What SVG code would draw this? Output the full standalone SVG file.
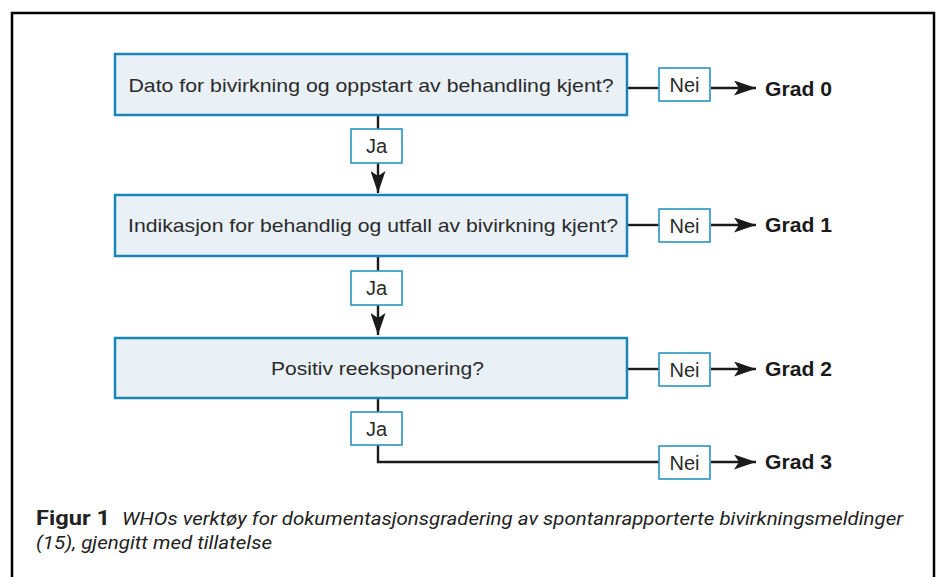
<svg xmlns="http://www.w3.org/2000/svg" width="939" height="577" viewBox="0 0 939 577">
<style>
.q{fill:#e9f0f6;stroke:#1a86b8;stroke-width:2.5}
.lb{fill:#fff;stroke:#2a93c2;stroke-width:1.6}
.t{font-family:"Liberation Sans",Arial,sans-serif;font-size:19px;fill:#2a2a2a}
.s{font-family:"Liberation Sans",Arial,sans-serif;font-size:20px;fill:#2a2a2a}
.g{font-family:"Liberation Sans",Arial,sans-serif;font-size:20.5px;font-weight:bold;fill:#1a1a1a}
.ln{stroke:#1a1a1a;stroke-width:2.4;fill:none}
.cap{font-family:Roboto,"Liberation Sans",sans-serif;font-size:18px;fill:#222}
</style>
<defs>
<marker id="ah" viewBox="0 0 22 15" refX="22" refY="7.5" markerWidth="22" markerHeight="15" markerUnits="userSpaceOnUse" orient="auto">
<path d="M0,0 L22,7.5 L0,15 L5,7.5 Z" fill="#1a1a1a"/>
</marker>
</defs>
<rect x="12" y="13" width="922" height="580" fill="#fff" stroke="#000" stroke-width="2.5"/>
<g id="connectors">
<line class="ln" x1="378" y1="116" x2="378" y2="193" marker-end="url(#ah)"/>
<line class="ln" x1="378" y1="257" x2="378" y2="335" marker-end="url(#ah)"/>
<polyline class="ln" points="378,399 378,462 659,462"/>
<line class="ln" x1="628" y1="88" x2="659" y2="88"/>
<line class="ln" x1="711" y1="88" x2="756" y2="88" marker-end="url(#ah)"/>
<line class="ln" x1="628" y1="225" x2="659" y2="225"/>
<line class="ln" x1="711" y1="225" x2="756" y2="225" marker-end="url(#ah)"/>
<line class="ln" x1="628" y1="369" x2="659" y2="369"/>
<line class="ln" x1="711" y1="369" x2="756" y2="369" marker-end="url(#ah)"/>
<line class="ln" x1="711" y1="462" x2="756" y2="462" marker-end="url(#ah)"/>
</g>
<g id="q1">
<rect class="q" x="115" y="54" width="512" height="61"/>
<text class="t" x="371" y="92" text-anchor="middle" textLength="485" lengthAdjust="spacingAndGlyphs">Dato for bivirkning og oppstart av behandling kjent?</text>
</g>
<g id="q2">
<rect class="q" x="115" y="195" width="512" height="61"/>
<text class="t" x="373" y="232" text-anchor="middle" textLength="490" lengthAdjust="spacingAndGlyphs">Indikasjon for behandlig og utfall av bivirkning kjent?</text>
</g>
<g id="q3">
<rect class="q" x="115" y="338" width="512" height="60"/>
<text class="t" x="377.5" y="375" text-anchor="middle" textLength="213" lengthAdjust="spacingAndGlyphs">Positiv reeksponering?</text>
</g>
<g id="ja1">
<rect class="lb" x="351" y="129" width="51" height="34"/>
<text class="s" x="376.5" y="153" text-anchor="middle">Ja</text>
</g>
<g id="ja2">
<rect class="lb" x="351" y="271" width="51" height="34"/>
<text class="s" x="376.5" y="295" text-anchor="middle">Ja</text>
</g>
<g id="ja3">
<rect class="lb" x="351" y="412" width="51" height="33"/>
<text class="s" x="376.5" y="436" text-anchor="middle">Ja</text>
</g>
<g id="nei0">
<rect class="lb" x="659" y="68" width="51" height="33"/>
<text class="s" x="684.5" y="92" text-anchor="middle">Nei</text>
</g>
<g id="nei1">
<rect class="lb" x="659" y="209" width="51" height="33"/>
<text class="s" x="684.5" y="233" text-anchor="middle">Nei</text>
</g>
<g id="nei2">
<rect class="lb" x="659" y="353" width="51" height="33"/>
<text class="s" x="684.5" y="377" text-anchor="middle">Nei</text>
</g>
<g id="nei3">
<rect class="lb" x="659" y="446" width="51" height="33"/>
<text class="s" x="684.5" y="470" text-anchor="middle">Nei</text>
</g>
<g id="grad0"><text class="g" x="765" y="96" textLength="67" lengthAdjust="spacingAndGlyphs">Grad 0</text></g>
<g id="grad1"><text class="g" x="765" y="232" textLength="67" lengthAdjust="spacingAndGlyphs">Grad 1</text></g>
<g id="grad2"><text class="g" x="765" y="376" textLength="67" lengthAdjust="spacingAndGlyphs">Grad 2</text></g>
<g id="grad3"><text class="g" x="765" y="469" textLength="67" lengthAdjust="spacingAndGlyphs">Grad 3</text></g>
<g id="caption">
<text class="cap" x="36" y="525"><tspan font-weight="bold" font-size="21" textLength="74" lengthAdjust="spacingAndGlyphs">Figur 1</tspan></text>
<text class="cap" x="122" y="525" font-style="italic" textLength="781" lengthAdjust="spacingAndGlyphs">WHOs verktøy for dokumentasjonsgradering av spontanrapporterte bivirkningsmeldinger</text>
<text class="cap" x="36" y="549" font-style="italic" textLength="236" lengthAdjust="spacingAndGlyphs">(15), gjengitt med tillatelse</text>
</g>
</svg>
